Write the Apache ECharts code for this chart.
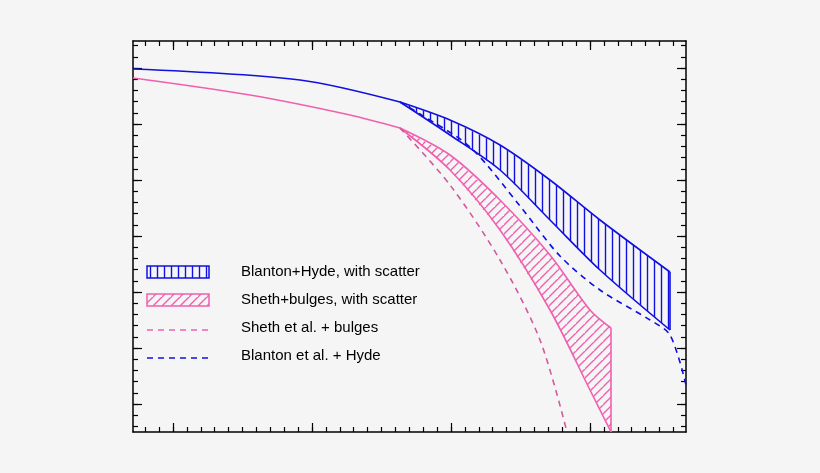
<!DOCTYPE html>
<html><head><meta charset="utf-8">
<script src="https://cdn.jsdelivr.net/npm/echarts@6/dist/echarts.min.js"></script>
<style>html,body{margin:0;background:#f5f5f5}#c{width:820px;height:473px}</style>
</head><body><div id="c"></div>
<script>
// data in plot units (x: 0..553, y: 0..391)
const blueSolid = [[0,363],[167,352],[267,330],[317,312],[367,287],[417,252],[467,212],[537,160]];
const blueBandLower = [[267,330],[317,297],[367,262],[417,212],[467,162],[537,102]];
const blueDashed = [[267,330],[287,318],[337,285],[387,226],[427,176],[467,142],[517,112],[537,97],[553,47]];
const pinkSolid = [[0,354],[117,337],[217,317],[267,304],[317,277],[367,232],[417,177],[457,122],[478,104]];
const pinkBandLower = [[267,304],[317,262],[367,202],[417,122],[457,42],[478,0]];
const pinkDashed = [[267,304],[317,247],[367,172],[407,92],[434,0]];
const xMajor = [40,179,318,457];
const yMajor = [28,84,140,196,252,308,364];
const legendLabels = ['Blanton+Hyde, with scatter','Sheth+bulges, with scatter','Sheth et al. + bulges','Blanton et al. + Hyde'];

const BLUE='#1010e0', PINK='#f060b0', PINKD='#d05aa0';
function pat(color, diag){
  const c=document.createElement('canvas'); const s=diag?9:7; c.width=s;c.height=s;
  const g=c.getContext('2d'); g.strokeStyle=color; g.lineWidth=1.4;
  g.beginPath();
  if(diag){ g.moveTo(-1,s+1); g.lineTo(s+1,-1); g.moveTo(-1-s,s+1);g.lineTo(1,-1);g.moveTo(s-1,2*s+1);g.lineTo(2*s+1,s-1);}
  else { g.moveTo(3.5,0); g.lineTo(3.5,s); }
  g.stroke(); return {image:c, repeat:'repeat'};
}
const xMinor=[],yMinor=[];
for(let v=40-13.9*2; v<=553; v+=13.9) xMinor.push(+v.toFixed(1));
for(let v=28-11.2*2; v<=391; v+=11.2) yMinor.push(+v.toFixed(1));

function axis(pos, max, vals, len, show){
  return {type:'value', position:pos, min:0, max:max, gridIndex:0,
    axisLine:{show:show, onZero:false, lineStyle:{color:'#000',width:1.5}},
    axisTick:{show:true, inside:true, length:len, customValues:vals, lineStyle:{color:'#000',width:1.2}},
    axisLabel:{show:false}, splitLine:{show:false}};
}
function band(upper, lower, color, diag){
  return {type:'custom', xAxisIndex:0, yAxisIndex:0, data:[[0,0]], silent:true, z:2,
    renderItem:(p,api)=>{
      const x0=lower[0][0];
      const up=upper.filter(d=>d[0]>=x0).map(d=>api.coord(d));
      const lo=lower.map(d=>api.coord(d)).reverse();
      return {type:'group',children:[
        {type:'polygon', shape:{points:up.concat(lo)}, style:{fill:pat(color,diag), stroke:null}},
        {type:'polyline', shape:{points:up, smooth:0.3}, style:{stroke:color,lineWidth:1.6,fill:null}},
        {type:'polyline', shape:{points:lo, smooth:0.3}, style:{stroke:color,lineWidth:1.6,fill:null}},
        {type:'line', shape:{x1:up[up.length-1][0],y1:up[up.length-1][1],x2:lo[0][0],y2:lo[0][1]}, style:{stroke:color,lineWidth:1.6}}
      ]};
    }};
}
function line(d,color,dash){return {type:'line',data:d,smooth:0.3,showSymbol:false,xAxisIndex:0,yAxisIndex:0,z:3,
  lineStyle:{color:color,width:1.6,type:dash?[6,5]:'solid'}};}

const chart=echarts.init(document.getElementById('c'));
const lx=147, ly=[272,300,328,356];
const graphics=[];
graphics.push({type:'rect',shape:{x:lx,y:ly[0]-6,width:62,height:12},style:{fill:pat(BLUE,false),stroke:BLUE,lineWidth:1.5}});
graphics.push({type:'rect',shape:{x:lx,y:ly[1]-6,width:62,height:12},style:{fill:pat(PINK,true),stroke:PINK,lineWidth:1.5}});
graphics.push({type:'line',shape:{x1:lx,y1:ly[2]+2,x2:lx+62,y2:ly[2]+2},style:{stroke:PINK,lineWidth:1.5,lineDash:[6,5]}});
graphics.push({type:'line',shape:{x1:lx,y1:ly[3]+2,x2:lx+62,y2:ly[3]+2},style:{stroke:BLUE,lineWidth:1.5,lineDash:[6,5]}});
legendLabels.forEach((t,i)=>graphics.push({type:'text',x:241,y:ly[i],style:{text:t,fill:'#000',font:'15px "Liberation Sans", Arial',verticalAlign:'middle'}}));

chart.setOption({
  backgroundColor:'#f5f5f5', animation:false,
  grid:{left:133,right:134,top:41,bottom:41,show:false},
  xAxis:[axis('bottom',553,xMajor,9,true),axis('bottom',553,xMinor,5,false),axis('top',553,xMajor,9,true),axis('top',553,xMinor,5,false)],
  yAxis:[axis('left',391,yMajor,9,true),axis('left',391,yMinor,5,false),axis('right',391,yMajor,9,true),axis('right',391,yMinor,5,false)],
  series:[
    band(blueSolid,blueBandLower,BLUE,false),
    band(pinkSolid,pinkBandLower,PINK,true),
    line(blueSolid.filter(d=>d[0]<=267),BLUE,false), line(pinkSolid.filter(d=>d[0]<=267),PINK,false),
    line(blueDashed,BLUE,true), line(pinkDashed,PINKD,true)
  ],
  graphic:graphics
});
</script></body></html>
